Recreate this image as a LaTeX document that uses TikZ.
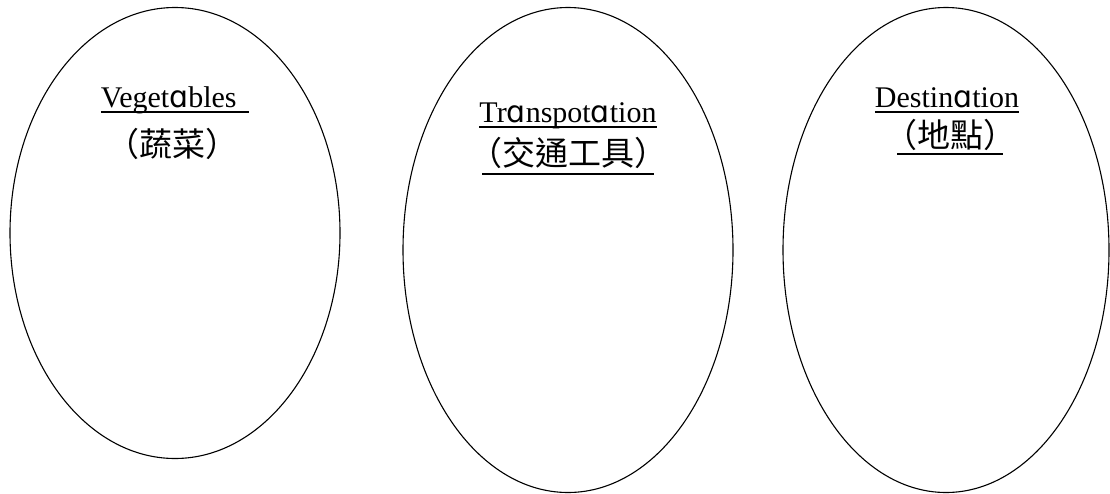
\documentclass[tikz,border=0pt]{standalone}
\usepackage{fontspec}
\setmainfont{Liberation Serif}
\newfontfamily\cjk{Noto Sans CJK TC}
\newfontfamily\afont{DejaVu Sans}
\usetikzlibrary{shapes.geometric}
\newcommand{\sa}{{\afont ɑ}}
\newsavebox{\ulbox}
\newcommand{\ulx}[2]{\sbox{\ulbox}{#2}\rlap{\rule[-#1]{\wd\ulbox}{1.8pt}}\usebox{\ulbox}}

\begin{document}
\begin{tikzpicture}[
  x=1pt, y=-1pt,
  gnode/.style={draw,ellipse,line width=1.1pt,minimum width=330pt,inner sep=0pt},
  tnode/.style={anchor=base,inner sep=0pt,font=\fontsize{30}{32}\selectfont},
  cnode/.style={inner sep=0pt,font=\cjk\fontsize{33}{35}\selectfont}
]
  \useasboundingbox (0,0) rectangle (1110,493);

  % groups
  \node[gnode,minimum height=451pt] (veg) at (175,233) {};
  \node[gnode,minimum height=485pt] (trans) at (568,250) {};
  \node[gnode,minimum height=485pt,minimum width=326pt] (dest) at (946,250) {};

  % titles
  \node[tnode] (vegt) at (175,107) {\ulx{6pt}{Veget\sa bles\ \,}};
  \node[tnode] (transt) at (568,122) {\ulx{6pt}{Tr\sa nspot\sa tion}};
  \node[tnode] (destt) at (947,107) {\ulx{6pt}{Destin\sa tion}};

  % chinese
  \node[cnode] (vegc) at (172,144) {（蔬菜）};
  \node[cnode] (transc) at (568,156) {\ulx{10pt}{\kern-.4em（交通工具）\kern-.4em}};
  \node[cnode] (destc) at (950,137) {\ulx{8pt}{\kern-.4em（地點）\kern-.4em}};
\end{tikzpicture}
\end{document}
